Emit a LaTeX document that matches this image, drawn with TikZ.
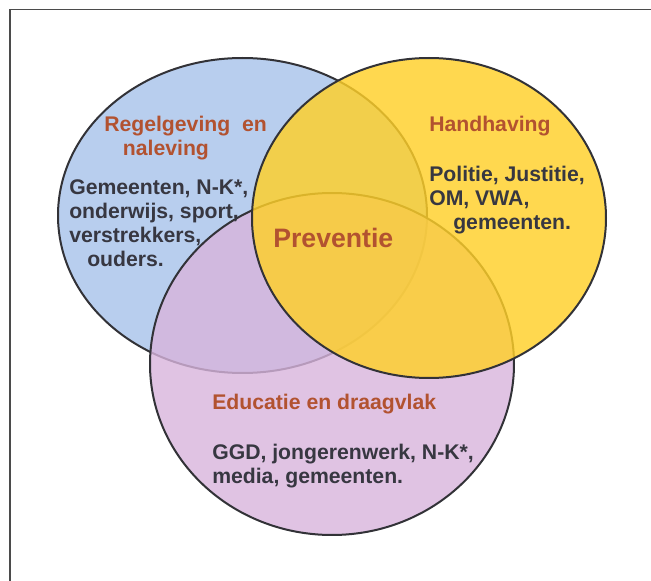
\documentclass[tikz,border=0pt]{standalone}
\usepackage{fontspec}
\setmainfont{Liberation Sans}
\usepackage{tikz}

\begin{document}
\begin{tikzpicture}[x=0.75pt,y=0.75pt,yscale=-1,xscale=1,
    venn/.style={color={rgb, 255:red, 50; green, 50; blue, 55 }, line width=1.5},
    kop/.style={anchor=north west, inner sep=0pt, align=left, color={rgb, 255:red, 178; green, 82; blue, 48 }, font=\bfseries\fontsize{15.9}{18}\selectfont},
    tekst/.style={anchor=north west, inner sep=0pt, align=left, color={rgb, 255:red, 55; green, 55; blue, 65 }, font=\bfseries\fontsize{15.9}{18}\selectfont}]
    \useasboundingbox (0,0) rectangle (651,581);

    %Straight Lines [frame top and left]
    \draw [color={rgb, 255:red, 75; green, 75; blue, 75 }, line width=1.2] (651,9.5) -- (10,9.5) -- (10,581);

    %Shape: Ellipse [regelgeving]
    \draw [venn, fill={rgb, 255:red, 184; green, 206; blue, 238 }] (242.5,215.5) ellipse [x radius=184.5, y radius=157.5];
    %Shape: Ellipse [educatie]
    \draw [venn, fill={rgb, 255:red, 216; green, 180; blue, 220 }, fill opacity=0.8] (332,364) ellipse [x radius=182, y radius=171];
    %Shape: Ellipse [handhaving]
    \draw [venn, fill={rgb, 255:red, 255; green, 208; blue, 40 }, fill opacity=0.82] (429,218) ellipse [x radius=177, y radius=160];

    % Text Node
    \draw (104,116) node [kop] (regel) {Regelgeving\ \ en\\\hspace*{14pt}naleving};
    % Text Node
    \draw (69,179) node [tekst] (regelwie) {Gemeenten, N-K*,\\onderwijs, sport,\\verstrekkers,\\\hspace*{13.5pt}ouders.};
    % Text Node
    \draw (429,116) node [kop] (hand) {Handhaving};
    % Text Node
    \draw (429,166) node [tekst] (handwie) {Politie, Justitie,\\OM, VWA,\\\hspace*{18pt}gemeenten.};
    % Text Node
    \draw (273,228) node [kop, font=\bfseries\fontsize{20}{24}\selectfont] (prev) {Preventie};
    % Text Node
    \draw (212,394) node [kop] (edu) {Educatie en draagvlak};
    % Text Node
    \draw (212,444) node [tekst] (eduwie) {GGD, jongerenwerk, N-K*,\\media, gemeenten.};

\end{tikzpicture}
\end{document}
